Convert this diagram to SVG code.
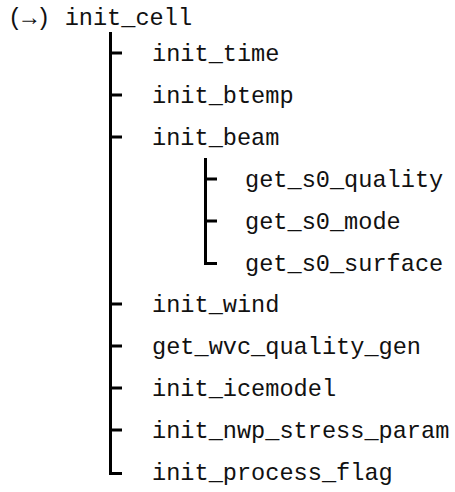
<svg xmlns="http://www.w3.org/2000/svg" width="455" height="492" viewBox="0 0 455 492">
  <style>
    .lbl { font-family: "Liberation Mono", "Courier New", "DejaVu Sans Mono", monospace; font-size: 23.6px; fill: #111; }
    .tree { stroke: #000; stroke-width: 3; fill: none; stroke-linecap: butt; }
  </style>
  <rect width="455" height="492" fill="#fff"/>

  <!-- connectors: call tree branches -->
  <g id="connectors">
    <!-- main trunk under init_cell -->
    <path class="tree" d="M110.5 32 V473.5 H122"/>
    <path class="tree" d="M110.5 53 H122 M110.5 95 H122 M110.5 137 H122 M110.5 304 H122 M110.5 346 H122 M110.5 388 H122 M110.5 430 H122"/>
    <!-- sub trunk under init_beam -->
    <path class="tree" d="M205.5 158 V263.5 H217"/>
    <path class="tree" d="M205.5 179 H217 M205.5 221 H217"/>
  </g>

  <g id="n_init_cell"><text class="lbl" x="8" y="25">(→) init_cell</text></g>
  <g id="n_init_time"><text class="lbl" x="152" y="61">init_time</text></g>
  <g id="n_init_btemp"><text class="lbl" x="152" y="103">init_btemp</text></g>
  <g id="n_init_beam"><text class="lbl" x="152" y="145">init_beam</text></g>
  <g id="n_get_s0_quality"><text class="lbl" x="245" y="187">get_s0_quality</text></g>
  <g id="n_get_s0_mode"><text class="lbl" x="245" y="229">get_s0_mode</text></g>
  <g id="n_get_s0_surface"><text class="lbl" x="245" y="271">get_s0_surface</text></g>
  <g id="n_init_wind"><text class="lbl" x="152" y="312">init_wind</text></g>
  <g id="n_get_wvc_quality_gen"><text class="lbl" x="152" y="354">get_wvc_quality_gen</text></g>
  <g id="n_init_icemodel"><text class="lbl" x="152" y="396">init_icemodel</text></g>
  <g id="n_init_nwp_stress_param"><text class="lbl" x="152" y="438">init_nwp_stress_param</text></g>
  <g id="n_init_process_flag"><text class="lbl" x="152" y="480">init_process_flag</text></g>
</svg>
